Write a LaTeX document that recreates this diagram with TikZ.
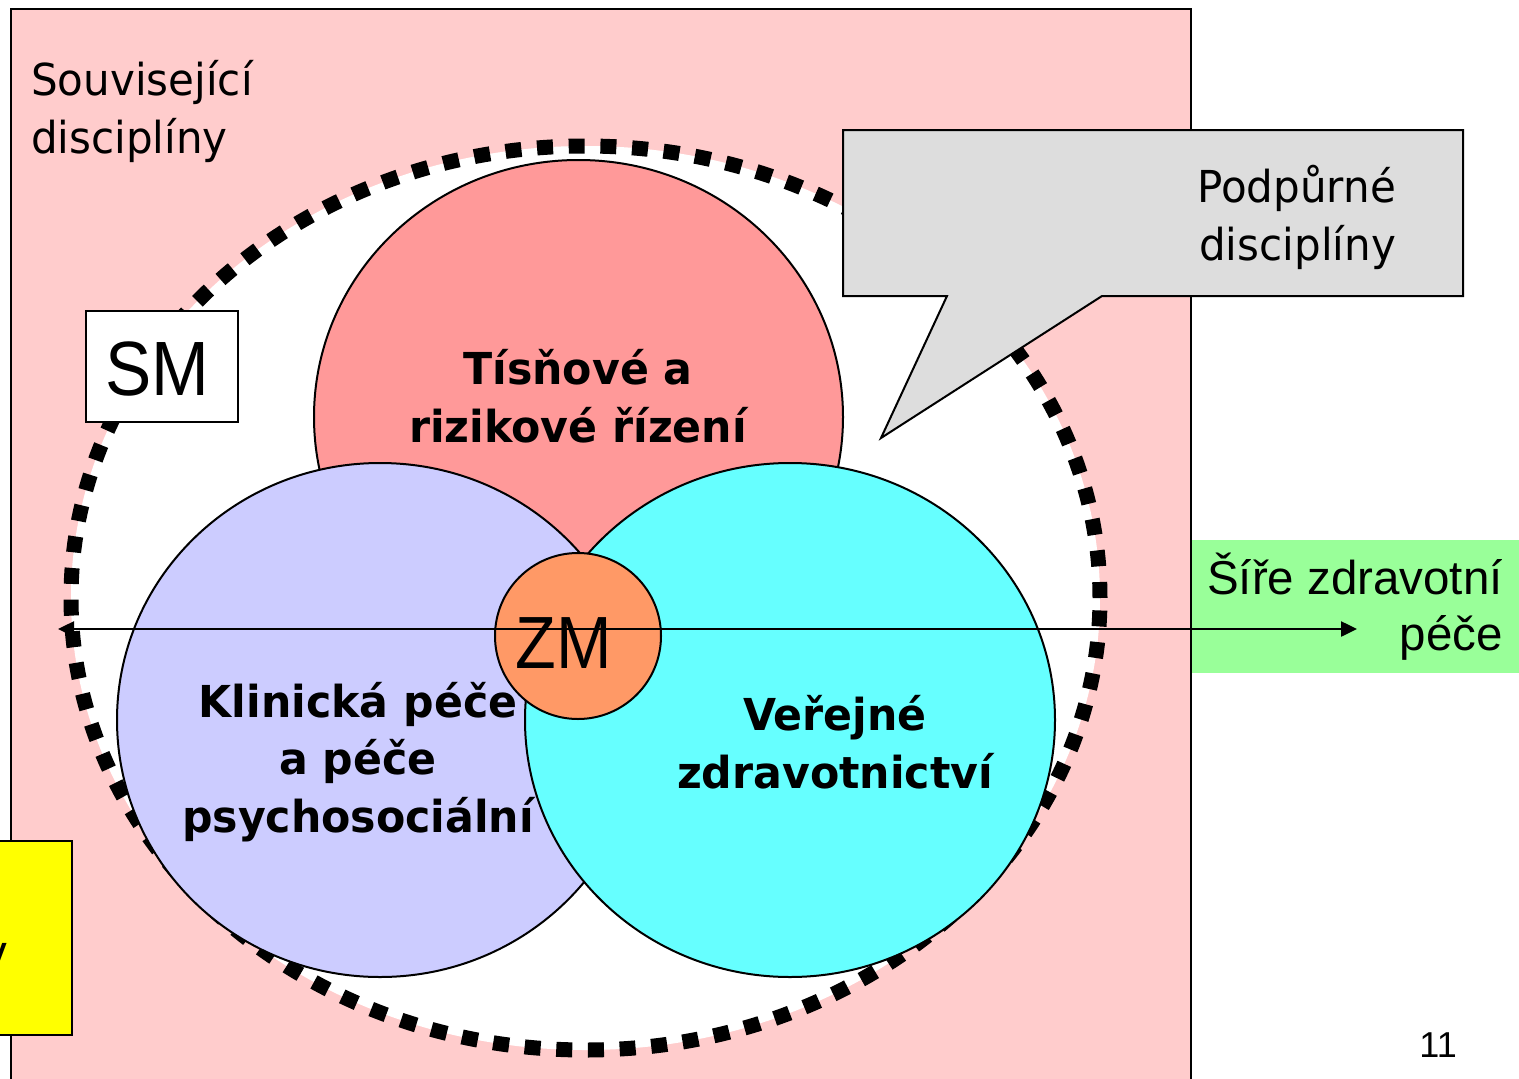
\documentclass[tikz,border=0pt]{standalone}
\usepackage{fontspec}
\setmainfont{Liberation Sans}
\newfontfamily\tahoma[FakeStretch=0.955]{DejaVu Sans}
\newfontfamily\tahomab[FakeStretch=0.97]{DejaVu Sans Bold}
\newfontfamily\narrowsans[FakeStretch=0.9]{Liberation Sans}
\usetikzlibrary{shapes.geometric,arrows.meta}
\definecolor{pinkbg}{HTML}{FFCCCC}
\definecolor{redc}{HTML}{FF9999}
\definecolor{lavc}{HTML}{CCCCFF}
\definecolor{cyanc}{HTML}{66FFFF}
\definecolor{orngc}{HTML}{FF9966}
\definecolor{greenc}{HTML}{99FF99}
\definecolor{grayc}{HTML}{DDDDDD}
\definecolor{yellowc}{HTML}{FFFF00}
\tikzset{
  disk/.style={ellipse, draw=black, line width=2pt, inner sep=0pt},
  frame/.style={draw=black, line width=2pt},
  plain/.style={inner sep=0pt, font=\fontsize{47.5}{56}\selectfont},
  thin/.style={inner sep=0pt, font=\tahoma\fontsize{44}{57.5}\selectfont},
  boldlbl/.style={inner sep=0pt, align=center, font=\tahomab\fontsize{44}{57.5}\selectfont},
}
\begin{document}
\begin{tikzpicture}[x=1pt,y=-1pt]
\useasboundingbox (0,0) rectangle (1519,1079);
% green strip
\path[fill=greenc] (1192,540) rectangle (1519,673);
% related disciplines area
\path[fill=pinkbg, frame] (11,9) rectangle (1191,1100);
% dashed band
\node (band) [ellipse, minimum width=1029pt, minimum height=904pt, inner sep=0pt,
  fill=white, draw=black, line width=15pt, dash pattern=on 16pt off 15.7pt] at (585.5,598) {};
% three disciplines
\node (rk) [disk, fill=redc, minimum width=529pt, minimum height=514pt] at (578.5,417) {};
\node (kp) [disk, fill=lavc, minimum width=526pt, minimum height=514pt] at (380,720) {};
\node (vz) [disk, fill=cyanc, minimum width=530pt, minimum height=514pt] at (790,720) {};
\node (zm) [disk, fill=orngc, minimum width=166pt, minimum height=166pt] at (578,636) {};
% callout
\path[fill=grayc, frame] (843,130) -- (1463,130) -- (1463,296) -- (1102,296)
  -- (881,438) -- (947,296) -- (843,296) -- cycle;
% SM box
\path[fill=white, frame] (86,311) rectangle (238,422);
% yellow box
\path[fill=yellowc, frame] (-10,841) rectangle (72,1035);
% arrow
\coordinate (aL) at (58,629);
\coordinate (aR) at (1357,629);
\draw[line width=2.5pt, {Triangle[length=16pt,width=15pt]}-{Triangle[length=16pt,width=15pt]}] (aL) -- (aR);
% texts (base anchor = baseline of the last line)
\node (souv) [thin, anchor=base west, align=left] at (31,153) {Související\\disciplíny};
\node (podp) [thin, anchor=base east, align=right] at (1396,260) {Podpůrné\\disciplíny};
\node (sire) [plain, anchor=base east, align=right] at (1503,650) {Šíře zdravotní\\péče};
\node (smt) [inner sep=0pt, anchor=base, font=\narrowsans\fontsize{77}{80}\selectfont] at (157,395) {SM};
\node (zmt) [inner sep=0pt, anchor=base, font=\narrowsans\fontsize{74}{80}\selectfont] at (564,668) {ZM};
\node (rkt) [boldlbl, anchor=base] at (578,442) {Tísňové a\\rizikové řízení};
\node (kpt) [boldlbl, anchor=base] at (358,832) {Klinická péče\\a péče\\psychosociální};
\node (vzt) [boldlbl, anchor=base] at (835,788) {Veřejné\\zdravotnictví};
\node (yv) [plain, anchor=base east] at (7,968) {v};
\node (pg) [inner sep=0pt, anchor=base east, font=\fontsize{36}{40}\selectfont] at (1457,1057) {11};
\end{tikzpicture}
\end{document}
